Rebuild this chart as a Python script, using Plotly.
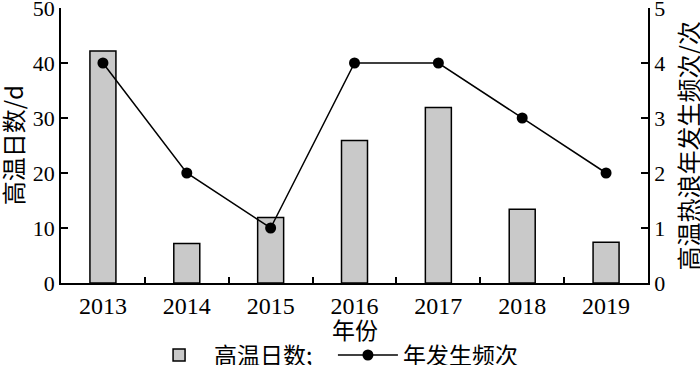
import plotly.graph_objects as go

years = ["2013", "2014", "2015", "2016", "2017", "2018", "2019"]
hot_days = [42.2, 7.2, 11.9, 25.9, 31.9, 13.4, 7.4]
heatwave_freq = [4, 2, 1, 4, 4, 3, 2]
left_ticks = [0, 10, 20, 30, 40, 50]
right_ticks = [0, 1, 2, 3, 4, 5]

FONT = "'Liberation Serif', 'Times New Roman', 'Noto Sans CJK SC', serif"
CJK = "'Noto Sans CJK SC', 'Liberation Serif', serif"

fig = go.Figure()
fig.add_trace(go.Bar(
    x=years, y=hot_days, name="高温日数;\u00a0\u00a0\u00a0",
    marker=dict(color="#c9c9c9", line=dict(color="black", width=1.5)),
    width=0.31, yaxis="y",
))
fig.add_trace(go.Scatter(
    x=years, y=heatwave_freq, name="年发生频次", mode="lines+markers",
    line=dict(color="black", width=1.5),
    marker=dict(color="black", size=11),
    yaxis="y2",
))

axis_common = dict(
    showline=True, linecolor="black", linewidth=1.5,
    ticks="inside", tickcolor="black", tickwidth=1.5,
    showgrid=False, zeroline=False, automargin=False,
    ticklabeloverflow="allow",
)

fig.update_layout(
    width=700, height=365,
    margin=dict(l=61, r=52, t=8, b=82, autoexpand=False),
    plot_bgcolor="white", paper_bgcolor="white",
    font=dict(family=FONT, size=22, color="black"),
    xaxis=dict(
        type="category", range=[-0.5, 6.5],
        tickson="boundaries", ticklen=6,
        tickfont=dict(family=FONT, size=24),
        **axis_common,
    ),
    yaxis=dict(
        range=[0, 50], tickvals=left_ticks, ticklen=7,
        tickfont=dict(family=FONT, size=22),
        **axis_common,
    ),
    yaxis2=dict(
        range=[0, 5], tickvals=right_ticks, overlaying="y", side="right",
        ticklen=7, tickfont=dict(family=FONT, size=22),
        **axis_common,
    ),
    legend=dict(
        orientation="h", x=0.1415, xanchor="left", y=-0.262, yanchor="middle",
        font=dict(family=CJK, size=23), bgcolor="rgba(0,0,0,0)",
        itemwidth=60,
    ),
    bargap=0.69,
    annotations=[
        dict(text="高温日数/d", xref="paper", yref="paper", x=-0.082, y=0.5,
             textangle=-90, showarrow=False, font=dict(family=CJK, size=24),
             xanchor="center", yanchor="middle"),
        dict(text="高温热浪年发生频次/次", xref="paper", yref="paper", x=1.068, y=0.5,
             textangle=-90, showarrow=False, font=dict(family=CJK, size=24),
             xanchor="center", yanchor="middle"),
        dict(text="年份", xref="paper", yref="paper", x=0.5, y=-0.168,
             showarrow=False, font=dict(family=CJK, size=23),
             xanchor="center", yanchor="middle"),
    ],
)

fig.write_html("out.html", config={"displayModeBar": False},
               post_script="document.body.style.margin='0';")
